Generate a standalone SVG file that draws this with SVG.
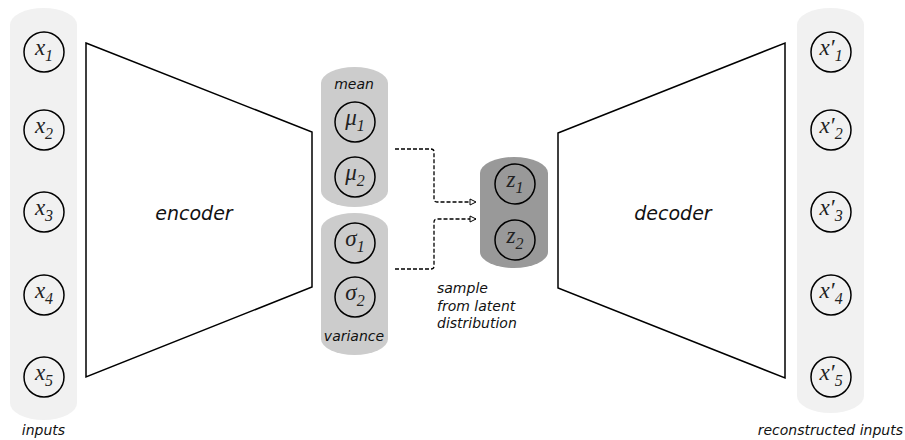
<svg xmlns="http://www.w3.org/2000/svg" width="905" height="440" viewBox="0 0 905 440">
<defs>
<style>
.lbl{font-family:"DejaVu Sans",Verdana,sans-serif;font-style:italic;font-size:14px;fill:#111}
.big{font-family:"DejaVu Sans",Verdana,sans-serif;font-style:italic;font-size:19px;fill:#111}
.var{font-family:"Liberation Serif","Times New Roman",serif;font-style:italic;font-size:23px;fill:#222}
.sub{font-size:16px}
.node{fill:none;stroke:#000;stroke-width:1.5}
.trap{fill:#fff;stroke:#000;stroke-width:1.5;stroke-linejoin:miter}
.conn{fill:none;stroke:#000;stroke-width:1.3;stroke-dasharray:4 2}
</style>
<marker id="arr" markerWidth="8" markerHeight="8" refX="7" refY="4" orient="auto" markerUnits="userSpaceOnUse">
<path d="M1,1 L7,4 L1,7 Z" fill="#fff" stroke="#000" stroke-width="1"/>
</marker>
</defs>
<rect width="905" height="440" fill="#fff"/>

<g id="inputs">
<rect x="10" y="8" width="67" height="412" rx="33.5" ry="17" fill="#f1f1f1"/>
<g id="x1"><circle class="node" cx="44" cy="52" r="20"/><text class="var" x="44" y="55" text-anchor="middle">x<tspan class="sub" dy="6">1</tspan></text></g>
<g id="x2"><circle class="node" cx="44" cy="130" r="20"/><text class="var" x="44" y="133" text-anchor="middle">x<tspan class="sub" dy="6">2</tspan></text></g>
<g id="x3"><circle class="node" cx="44" cy="212" r="20"/><text class="var" x="44" y="215" text-anchor="middle">x<tspan class="sub" dy="6">3</tspan></text></g>
<g id="x4"><circle class="node" cx="44" cy="295" r="20"/><text class="var" x="44" y="298" text-anchor="middle">x<tspan class="sub" dy="6">4</tspan></text></g>
<g id="x5"><circle class="node" cx="44" cy="377" r="20"/><text class="var" x="44" y="380" text-anchor="middle">x<tspan class="sub" dy="6">5</tspan></text></g>
<text class="lbl" x="43.5" y="435" text-anchor="middle">inputs</text>
</g>

<g id="encoder">
<polygon class="trap" points="86,43 312,132 312,287 86,377"/>
<text class="big" x="194" y="220" text-anchor="middle">encoder</text>
</g>

<g id="mean">
<rect x="321" y="67" width="67" height="140" rx="33.5" ry="16" fill="#cccccc"/>
<text class="lbl" x="354" y="89" text-anchor="middle">mean</text>
<g id="mu1"><circle class="node" cx="355" cy="122" r="20"/><text class="var" x="355" y="125" text-anchor="middle">μ<tspan class="sub" dy="6">1</tspan></text></g>
<g id="mu2"><circle class="node" cx="355" cy="177" r="20"/><text class="var" x="355" y="180" text-anchor="middle">μ<tspan class="sub" dy="6">2</tspan></text></g>
</g>

<g id="variance">
<rect x="321" y="213" width="67" height="142" rx="33.5" ry="16" fill="#cccccc"/>
<g id="sigma1"><circle class="node" cx="355" cy="243" r="20"/><text class="var" x="355" y="246" text-anchor="middle">σ<tspan class="sub" dy="6">1</tspan></text></g>
<g id="sigma2"><circle class="node" cx="355" cy="297" r="20"/><text class="var" x="355" y="300" text-anchor="middle">σ<tspan class="sub" dy="6">2</tspan></text></g>
<text class="lbl" x="354" y="341" text-anchor="middle">variance</text>
</g>

<g id="latent">
<rect x="480" y="157" width="68" height="111" rx="34" ry="16" fill="#999999"/>
<g id="z1"><circle class="node" cx="515" cy="184" r="20"/><text class="var" x="515" y="187" text-anchor="middle">z<tspan class="sub" dy="6">1</tspan></text></g>
<g id="z2"><circle class="node" cx="515" cy="240" r="20"/><text class="var" x="515" y="243" text-anchor="middle">z<tspan class="sub" dy="6">2</tspan></text></g>
</g>

<g id="sample-label">
<text class="lbl" x="437" y="293">sample</text>
<text class="lbl" x="437" y="311">from latent</text>
<text class="lbl" x="437" y="328">distribution</text>
</g>

<g id="connectors">
<path class="conn" d="M395,149 H431 Q434,149 434,152 V199 Q434,202 437,202 H476" marker-end="url(#arr)"/>
<path class="conn" d="M395,269 H431 Q434,269 434,266 V222 Q434,219 437,219 H476" marker-end="url(#arr)"/>
</g>

<g id="decoder">
<polygon class="trap" points="558,133 785,43 785,378 558,288"/>
<text class="big" x="673" y="220" text-anchor="middle">decoder</text>
</g>

<g id="outputs">
<rect x="797" y="8" width="67" height="405" rx="33.5" ry="17" fill="#f1f1f1"/>
<g id="xp1"><circle class="node" cx="831" cy="52" r="20"/><text class="var" x="831" y="55" text-anchor="middle">x′<tspan class="sub" dy="6">1</tspan></text></g>
<g id="xp2"><circle class="node" cx="831" cy="130" r="20"/><text class="var" x="831" y="133" text-anchor="middle">x′<tspan class="sub" dy="6">2</tspan></text></g>
<g id="xp3"><circle class="node" cx="831" cy="212" r="20"/><text class="var" x="831" y="215" text-anchor="middle">x′<tspan class="sub" dy="6">3</tspan></text></g>
<g id="xp4"><circle class="node" cx="831" cy="295" r="20"/><text class="var" x="831" y="298" text-anchor="middle">x′<tspan class="sub" dy="6">4</tspan></text></g>
<g id="xp5"><circle class="node" cx="831" cy="377" r="20"/><text class="var" x="831" y="380" text-anchor="middle">x′<tspan class="sub" dy="6">5</tspan></text></g>
<text class="lbl" x="903" y="435" text-anchor="end">reconstructed inputs</text>
</g>
</svg>
